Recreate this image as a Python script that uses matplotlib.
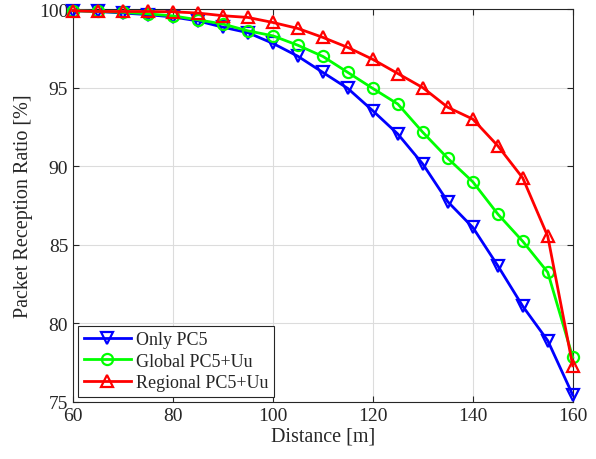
import matplotlib.pyplot as plt

plt.rcParams['font.family'] = ['Liberation Serif', 'DejaVu Serif']
plt.rcParams['text.color'] = '#262626'
plt.rcParams['xtick.color'] = '#262626'
plt.rcParams['ytick.color'] = '#262626'
plt.rcParams['axes.labelcolor'] = '#262626'

# data
distance = [60, 65, 70, 75, 80, 85, 90, 95, 100, 105, 110,
            115, 120, 125, 130, 135, 140, 145, 150, 155, 160]
only_pc5 = [99.9, 99.85, 99.75, 99.65, 99.5, 99.25, 98.85, 98.5, 97.82, 97.0, 95.97,
            94.95, 93.53, 92.05, 90.14, 87.74, 86.11, 83.67, 81.09, 78.9, 75.44]
global_pc5_uu = [99.9, 99.85, 99.8, 99.7, 99.57, 99.32, 99.05, 98.62, 98.3, 97.7, 96.99,
                 95.97, 94.95, 93.96, 92.16, 90.5, 89.01, 86.96, 85.22, 83.25, 77.84]
regional_pc5_uu = [99.9, 99.85, 99.85, 99.85, 99.83, 99.75, 99.58, 99.47, 99.15, 98.77, 98.2,
                   97.56, 96.8, 95.9, 95.0, 93.75, 93.0, 91.3, 89.25, 85.54, 77.3]

fig = plt.figure(figsize=(5.96, 4.6), dpi=100)
ax = fig.add_axes([0.1225, 0.124, 0.8385, 0.854])

ax.plot(distance, only_pc5, color='#0000ff', marker='v', markersize=8,
        markerfacecolor='none', markeredgewidth=1.6, linewidth=2, label='Only PC5',
        clip_on=False, zorder=3)
ax.plot(distance, global_pc5_uu, color='#00ff00', marker='o', markersize=8,
        markerfacecolor='none', markeredgewidth=1.6, linewidth=2, label='Global PC5+Uu',
        clip_on=False, zorder=4)
ax.plot(distance, regional_pc5_uu, color='#ff0000', marker='^', markersize=9,
        markerfacecolor='none', markeredgewidth=1.6, linewidth=2, label='Regional PC5+Uu',
        clip_on=False, zorder=5)

ax.set_xlim(60, 160)
ax.set_ylim(75, 100)
ax.set_xticks(range(60, 161, 20))
ax.set_yticks(range(75, 101, 5))
ax.grid(True, color='#dcdcdc', linewidth=0.8)
ax.set_axisbelow(True)
ax.tick_params(direction='in', top=True, right=True, labelsize=14, length=4)
for s in ax.spines.values():
    s.set_color('#262626')
    s.set_linewidth(0.8)

ax.set_xlabel('Distance [m]', fontsize=14.5, labelpad=2)
ax.set_ylabel('Packet Reception Ratio [%]', fontsize=14.5, labelpad=4)

leg = ax.legend(loc='lower left', fontsize=13, fancybox=False, framealpha=1,
                edgecolor='#262626', borderpad=0.3, handlelength=2.6,
                handletextpad=0.3, labelspacing=0.25, borderaxespad=0.3)
leg.get_frame().set_linewidth(0.8)
leg.set_zorder(10)

fig.savefig('out.png', dpi=100)
